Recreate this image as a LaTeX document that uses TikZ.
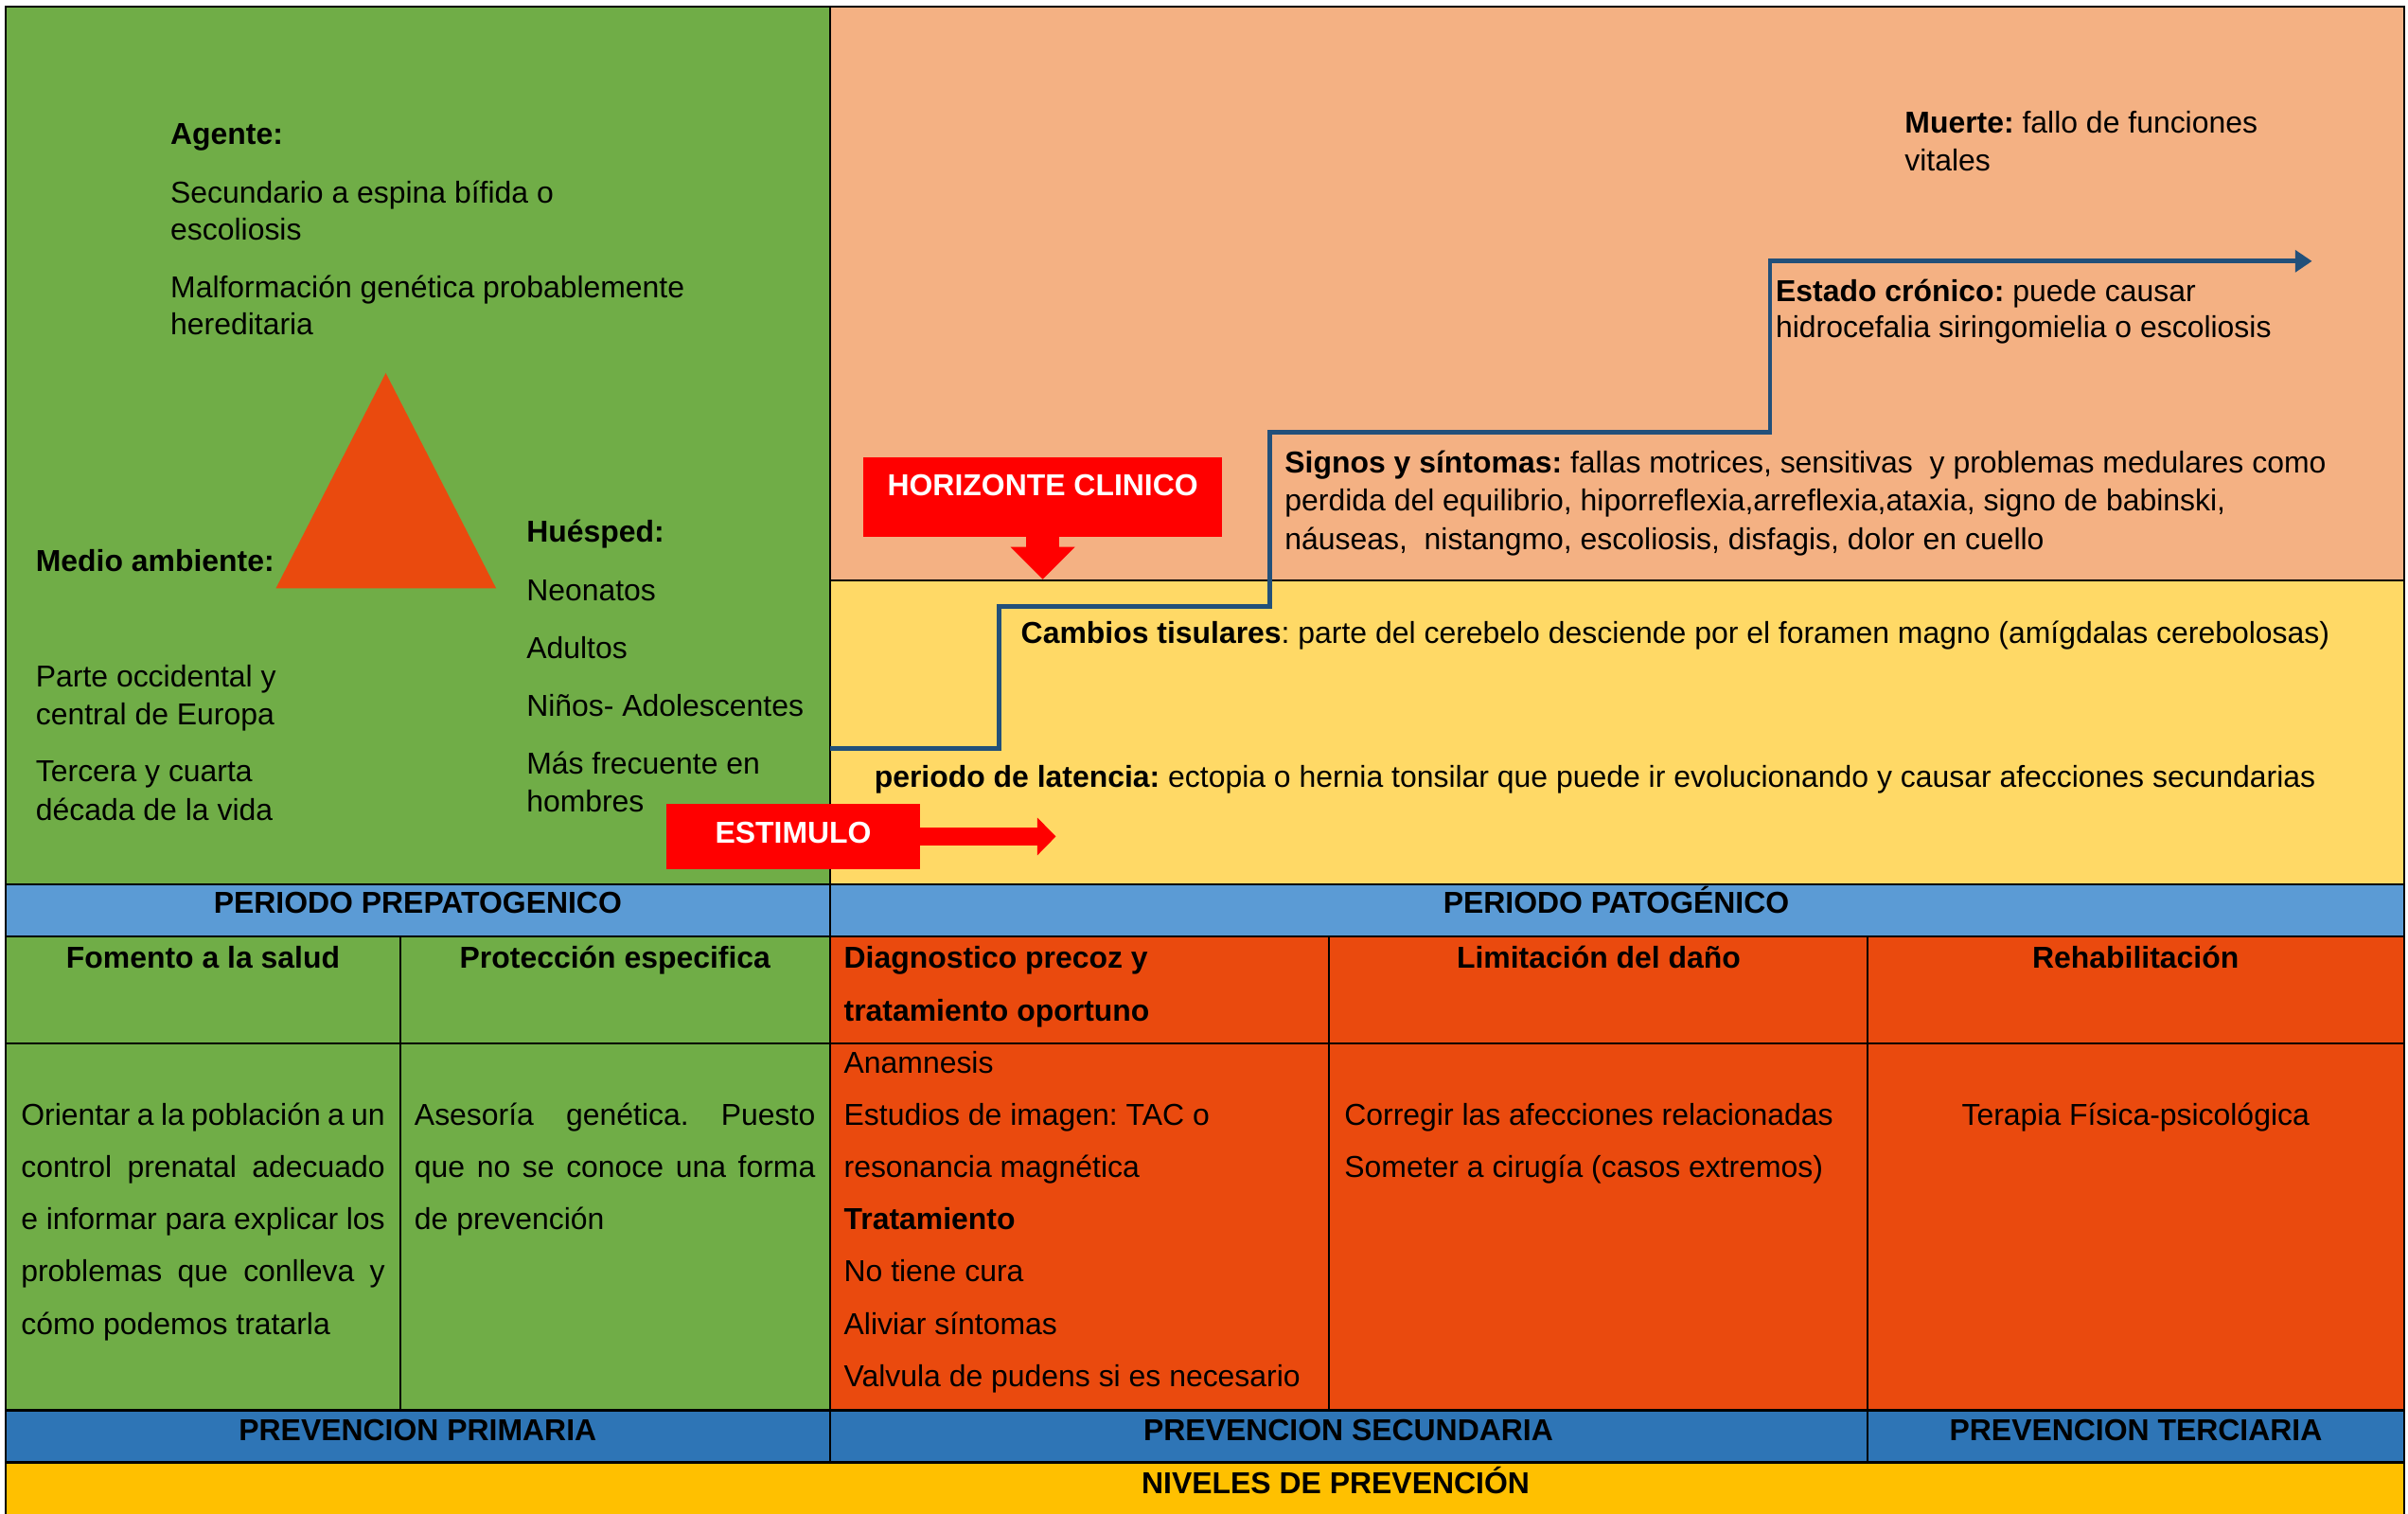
\documentclass[tikz,border=0pt]{standalone}
\usepackage{fontspec}
\setmainfont{Liberation Sans}
\usetikzlibrary{arrows.meta}

\definecolor{verde}{HTML}{70AD47}
\definecolor{salmon}{HTML}{F4B183}
\definecolor{amarillo}{HTML}{FFD966}
\definecolor{azulclaro}{HTML}{5B9BD5}
\definecolor{azul}{HTML}{2E75B6}
\definecolor{naranja}{HTML}{EA4A0E}
\definecolor{oro}{HTML}{FFC000}
\definecolor{rojo}{HTML}{FF0000}
\definecolor{linea}{HTML}{22507A}

\frenchspacing
\newcommand{\fuente}{\fontsize{11.2}{13}\selectfont}

\tikzset{
   txt/.style={anchor=base west, inner sep=0pt, font=\fuente},
   ctxt/.style={txt, anchor=base},
   hd/.style={ctxt, font=\fuente\bfseries},
   borde/.style={draw=black, line width=0.8pt},
   caja/.style={fill=rojo, text=white, inner sep=0pt, font=\fuente\bfseries},
   flecha/.style={draw=rojo, line width=#1},
   paso/.style={draw=linea, line width=0.06cm, line join=miter,
                -{Triangle[length=0.22cm, width=0.28cm]}},
}

\begin{document}
\begin{tikzpicture}[x=0.02cm, y=-0.02cm]
   \useasboundingbox (0,0) rectangle (1568,985);

   % Fondos
      \fill[verde]     (3.5,4.3)     rectangle (540.5,575.7);
      \fill[salmon]    (540.5,4.3)   rectangle (1565.6,378);
      \fill[amarillo]  (540.5,378)   rectangle (1565.6,575.7);
      \fill[azulclaro] (3.5,575.7)   rectangle (1565.6,609.6);
      \fill[verde]     (3.5,609.6)   rectangle (540.5,918);
      \fill[naranja]   (540.5,609.6) rectangle (1565.6,918);
      \fill[azul]      (3.5,918)     rectangle (1565.6,952);
      \fill[oro]       (3.5,952)     rectangle (1565.6,990);

   % Bordes
      \draw[borde] (3.5,990) -- (3.5,4.3) -- (1565.6,4.3) -- (1565.6,990);
      \draw[borde] (540.5,4.3) -- (540.5,952);
      \draw[borde] (540.5,378) -- (1565.6,378);
      \foreach \yy in {575.7,609.6,679,918,952}
         \draw[borde] (3.5,\yy) -- (1565.6,\yy);
      \foreach \xx in {260.8,865.3}
         \draw[borde] (\xx,609.6) -- (\xx,918);
      \draw[borde] (1216,609.6) -- (1216,952);

   % Triangulo
      \fill[naranja] (251.2,242.8) -- (323,382.9) -- (179.7,382.9) -- cycle;

   % Nodes
      \node[txt]  (ag)   at (110.7,94)    {\textbf{Agente:}};
      \node[txt]  (ag1)  at (110.7,132)   {Secundario a espina bífida o};
      \node[txt]  (ag2)  at (110.7,156)   {escoliosis};
      \node[txt]  (ag3)  at (110.7,194)   {Malformación genética probablemente};
      \node[txt]  (ag4)  at (110.7,218)   {hereditaria};

      \node[txt]  (ma)   at (23,371.7)    {\textbf{Medio ambiente:}};
      \node[txt]  (ma1)  at (23,447)      {Parte occidental y};
      \node[txt]  (ma2)  at (23,471.5)    {central de Europa};
      \node[txt]  (ma3)  at (23,509)      {Tercera y cuarta};
      \node[txt]  (ma4)  at (23,534)      {década de la vida};

      \node[txt]  (hu)   at (342.5,353)   {\textbf{Huésped:}};
      \node[txt]  (hu1)  at (342.5,391)   {Neonatos};
      \node[txt]  (hu2)  at (342.5,428.5) {Adultos};
      \node[txt]  (hu3)  at (342.5,466)   {Niños- Adolescentes};
      \node[txt]  (hu4)  at (342.5,504)   {Más frecuente en};
      \node[txt]  (hu5)  at (342.5,528.5) {hombres};

      \node[txt]  (mu1)  at (1240,86.7)   {\textbf{Muerte:} fallo de funciones};
      \node[txt]  (mu2)  at (1240,111.1)  {vitales};
      \node[txt]  (ec1)  at (1156,196)    {\textbf{Estado crónico:} puede causar};
      \node[txt]  (ec2)  at (1156,220)    {hidrocefalia siringomielia o escoliosis};
      \node[txt]  (si1)  at (836.3,307.8) {\textbf{Signos y síntomas:} fallas motrices, sensitivas\ \ y problemas medulares como};
      \node[txt]  (si2)  at (836.3,332.5) {perdida del equilibrio, hiporreflexia,arreflexia,ataxia, signo de babinski,};
      \node[txt]  (si3)  at (836.3,357.5) {náuseas,\ \ nistangmo, escoliosis, disfagis, dolor en cuello};
      \node[txt]  (ct)   at (664.5,419)   {\textbf{Cambios tisulares}: parte del cerebelo desciende por el foramen magno (amígdalas cerebolosas)};
      \node[txt]  (pl)   at (569,512.5)   {\textbf{periodo de latencia:} ectopia o hernia tonsilar que puede ir evolucionando y causar afecciones secundarias};

      \node[caja, minimum width=3.3cm, text height=0.52cm, text depth=0.34cm]
                  (est)  at (516.5,544.5) {ESTIMULO};
      \node[caja, minimum width=4.68cm, text height=0.5cm, text depth=0.536cm]
                  (hor)  at (679,323.5)   {HORIZONTE CLINICO};

      \node[hd]   (pre)  at (272,594.5)    {PERIODO PREPATOGENICO};
      \node[hd]   (pat)  at (1052.4,594.5) {PERIODO PATOGÉNICO};
      \node[hd]   (fom)  at (132.2,630.5)  {Fomento a la salud};
      \node[hd]   (pro)  at (400.5,630.5)  {Protección especifica};
      \node[txt]  (dia1) at (549.2,630.5)  {\textbf{Diagnostico precoz y}};
      \node[txt]  (dia2) at (549.2,664.5)  {\textbf{tratamiento oportuno}};
      \node[hd]   (lim)  at (1041,630.5)   {Limitación del daño};
      \node[hd]   (reh)  at (1390.6,630.5) {Rehabilitación};

      \foreach \yy/\renglon [count=\i] in
         {732.5/\makebox[4.74cm][s]{Orientar a la población a un},
          766.5/\makebox[4.74cm][s]{control prenatal adecuado},
          800.5/\makebox[4.74cm][s]{e informar para explicar los},
          834.5/\makebox[4.74cm][s]{problemas que conlleva y},
          868.5/cómo podemos tratarla}
         \node[txt] (fom\i) at (13.4,\yy) {\renglon};

      \foreach \yy/\renglon [count=\i] in
         {732.5/\makebox[5.22cm][s]{Asesoría genética. Puesto},
          766.5/\makebox[5.22cm][s]{que no se conoce una forma},
          800.5/de prevención}
         \node[txt] (pro\i) at (269.6,\yy) {\renglon};

      \foreach \yy/\renglon [count=\i] in
         {698.5/Anamnesis,
          732.5/Estudios de imagen: TAC o,
          766.5/resonancia magnética,
          800.5/\textbf{Tratamiento},
          834.5/No tiene cura,
          868.5/Aliviar síntomas,
          902.5/Valvula de pudens si es necesario}
         \node[txt] (dia\i) at (549.2,\yy) {\renglon};

      \node[txt]  (lim1) at (875.1,732.5)  {Corregir las afecciones relacionadas};
      \node[txt]  (lim2) at (875.1,766.5)  {Someter a cirugía (casos extremos)};
      \node[ctxt] (reh1) at (1390.6,732.5) {Terapia Física-psicológica};

      \node[hd]   (pv1)  at (272,937.5)    {PREVENCION PRIMARIA};
      \node[hd]   (pv2)  at (878,937.5)    {PREVENCION SECUNDARIA};
      \node[hd]   (pv3)  at (1390.8,937.5) {PREVENCION TERCIARIA};
      \node[hd]   (niv)  at (869.7,972.5)  {NIVELES DE PREVENCIÓN};

      \coordinate (estfin) at (687.5,544.5);
      \coordinate (horfin) at (679,377);
      \coordinate (s0) at (540.5,487);
      \coordinate (s1) at (650.5,394.5);
      \coordinate (s2) at (826.6,281.5);
      \coordinate (s3) at (1152.6,170);
      \coordinate (s4) at (1505.5,170);

   % Paths
      \draw[flecha=0.24cm, -{Triangle[length=0.24cm, width=0.49cm, line width=0pt]}]
            (est.east) -- (estfin);
      \draw[flecha=0.43cm, -{Triangle[length=0.42cm, width=0.84cm, line width=0pt]}]
            (hor.south) -- (horfin);
      \draw[paso] (s0) -| (s1) -| (s2) -| (s3) -- (s4);
\end{tikzpicture}
\end{document}
